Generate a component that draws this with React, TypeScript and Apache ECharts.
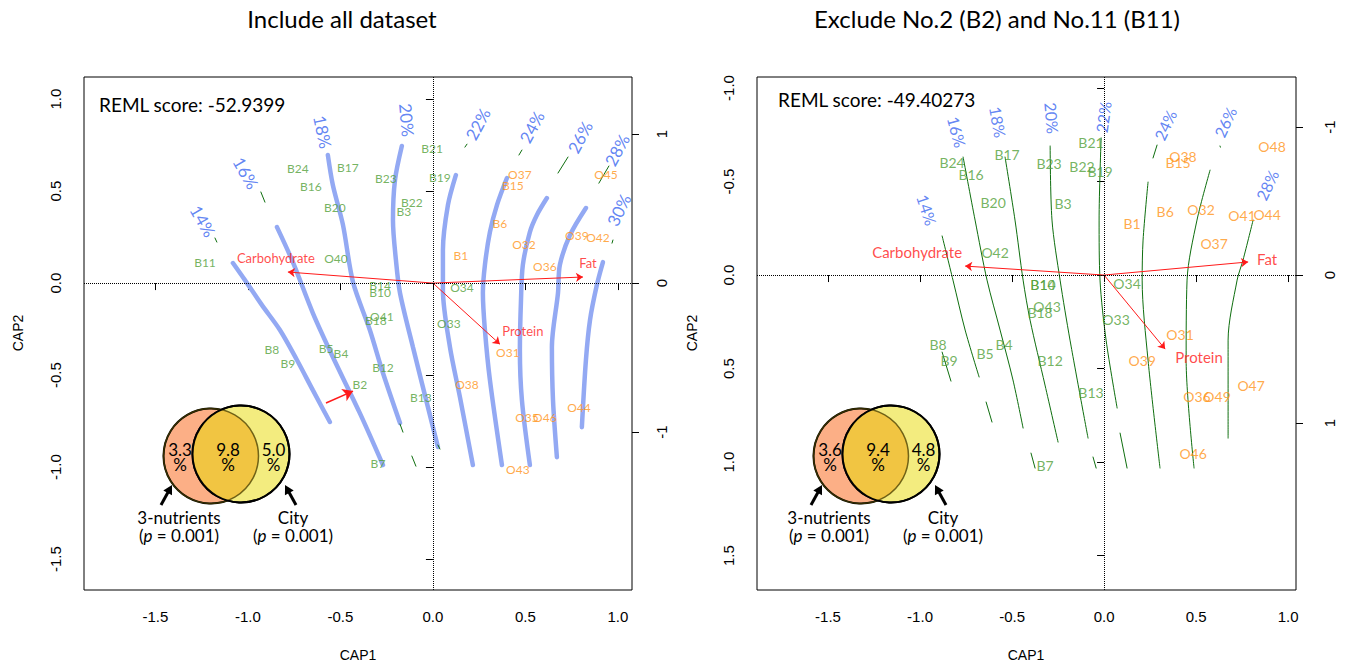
import React, { useEffect, useRef } from "react";
import * as echarts from "echarts";

// ---------- axis ranges and ticks ----------
const leftXRange = [-1.886, 1.076];
const leftYRange = [-1.668, 1.12];
const leftY2Range = [-2.06, 1.383];
const rightXRange = [-1.886, 1.043];
const rightYRange = [-1.059, 1.684];
const rightY2Range = [-1.338, 2.128];
const xTicks = [-1.5, -1, -0.5, 0, 0.5, 1];
const leftYTicks = [-1.5, -1, -0.5, 0, 0.5, 1];
const rightYTicks = [-1, -0.5, 0, 0.5, 1, 1.5];
const secondaryTicks = [-1, 0, 1];

// ---------- left panel: sites ----------
const leftGreenNames = ["B24", "B17", "B16", "B20", "B11", "O40", "B21", "B23", "B19", "B22", "B3", "O34", "B14", "B10", "O41", "B18", "O33", "B12", "B2", "B13", "B7", "B8", "B9", "B5", "B4"];
const leftGreenX = [-0.73, -0.46, -0.66, -0.53, -1.232, -0.524, -0.005, -0.254, 0.038, -0.114, -0.157, 0.157, -0.286, -0.286, -0.276, -0.308, 0.086, -0.27, -0.395, -0.065, -0.297, -0.87, -0.784, -0.578, -0.497];
const leftGreenY = [0.625, 0.63, 0.527, 0.413, 0.114, 0.136, 0.734, 0.571, 0.576, 0.44, 0.391, -0.022, -0.011, -0.049, -0.179, -0.201, -0.217, -0.457, -0.549, -0.62, -0.978, -0.359, -0.435, -0.353, -0.38];
const leftOrangeNames = ["O37", "B15", "O45", "B6", "B1", "O32", "O39", "O42", "O36", "O31", "O38", "O44", "O35", "O46", "O43"];
const leftOrangeX = [0.47, 0.432, 0.935, 0.362, 0.151, 0.492, 0.778, 0.892, 0.605, 0.405, 0.184, 0.789, 0.508, 0.605, 0.459];
const leftOrangeY = [0.592, 0.533, 0.592, 0.326, 0.152, 0.212, 0.261, 0.25, 0.092, -0.375, -0.549, -0.674, -0.728, -0.728, -1.011];

// ---------- left panel: nutrient arrows ----------
const leftArrowNames = ["Carbohydrate", "Fat", "Protein"];
const leftArrowX = [-0.784, 0.811, 0.362];
const leftArrowY = [0.06, 0.033, -0.332];
const leftArrowLabelX = [-0.849, 0.838, 0.486];
const leftArrowLabelY = [0.136, 0.109, -0.261];
const leftPointerFrom = [-0.578, -0.652];
const leftPointerTo = [-0.432, -0.587];

// ---------- left panel: contours (blue, hand-drawn overlay) ----------
const leftC14 = [[-1.081, 0.109], [-1.016, 0.016], [-0.924, -0.12], [-0.827, -0.255], [-0.735, -0.418], [-0.649, -0.582], [-0.557, -0.755]];
const leftC16 = [[-0.843, 0.304], [-0.757, 0.114], [-0.649, -0.163], [-0.541, -0.402], [-0.395, -0.707], [-0.27, -0.989]];
const leftC18 = [[-0.568, 0.696], [-0.541, 0.533], [-0.486, 0.315], [-0.432, 0.005], [-0.341, -0.255], [-0.27, -0.489], [-0.178, -0.761]];
const leftC20 = [[-0.168, 0.745], [-0.205, 0.56], [-0.216, 0.342], [-0.2, 0.125], [-0.178, -0.054], [-0.108, -0.348], [-0.027, -0.674], [0.027, -0.891]];
const leftC22 = [[0.124, 0.587], [0.081, 0.424], [0.054, 0.179], [0.054, -0.038], [0.092, -0.348], [0.146, -0.62], [0.216, -0.989]];
const leftC24 = [[0.4, 0.571], [0.346, 0.424], [0.308, 0.277], [0.281, 0.098], [0.27, -0.054], [0.281, -0.255], [0.308, -0.527], [0.373, -0.989]];
const leftC26 = [[0.616, 0.462], [0.562, 0.37], [0.524, 0.277], [0.486, 0.098], [0.476, -0.092], [0.47, -0.364], [0.481, -0.636], [0.524, -0.989]];
const leftC28 = [[0.827, 0.408], [0.741, 0.261], [0.686, 0.098], [0.676, -0.054], [0.643, -0.348], [0.649, -0.636], [0.67, -0.946]];
const leftC30 = [[0.919, 0.114], [0.886, -0.011], [0.849, -0.201], [0.827, -0.418], [0.805, -0.783]];
const leftGreenSegments = [
  [[-1.178, 0.245], [-1.168, 0.223]],
  [[-0.93, 0.495], [-0.908, 0.44]],
  [[0.173, 0.739], [0.184, 0.755]],
  [[0.465, 0.696], [0.481, 0.723]],
  [[0.676, 0.598], [0.73, 0.685]],
  [[0.897, 0.543], [0.951, 0.636]],
  [[0.968, 0.217], [0.973, 0.234]],
  [[-0.178, -0.766], [-0.162, -0.81]],
  [[-0.114, -0.94], [-0.092, -0.995]],
  [[0.027, -0.88], [0.038, -0.902]],
];
const leftPctNames = ["14%", "16%", "18%", "20%", "22%", "24%", "26%", "28%", "30%"];
const leftPctX = [-1.243, -1.011, -0.595, -0.141, 0.243, 0.535, 0.795, 0.995, 1.005];
const leftPctY = [0.337, 0.598, 0.821, 0.886, 0.864, 0.848, 0.793, 0.723, 0.397];
const leftPctAngles = [-60, -60, -78, -85, 62, 62, 62, 62, 64];

// ---------- right panel: sites ----------
const rightGreenNames = ["B24", "B17", "B16", "B20", "O42", "B21", "B23", "B22", "B19", "B3", "O34", "B14", "B10", "O43", "B18", "O33", "B12", "B13", "B7", "B8", "B9", "B5", "B4"];
const rightGreenX = [-0.826, -0.527, -0.723, -0.603, -0.592, -0.071, -0.299, -0.12, -0.022, -0.223, 0.125, -0.332, -0.332, -0.31, -0.348, 0.065, -0.293, -0.071, -0.321, -0.902, -0.842, -0.647, -0.543];
const rightGreenY = [-0.604, -0.647, -0.54, -0.39, -0.123, -0.711, -0.599, -0.578, -0.556, -0.38, 0.043, 0.053, 0.053, 0.166, 0.198, 0.235, 0.455, 0.626, 1.016, 0.369, 0.455, 0.422, 0.369];
const rightOrangeNames = ["O38", "B15", "O48", "B1", "B6", "O32", "O41", "O44", "O37", "O31", "O39", "O47", "O36", "O49", "O46"];
const rightOrangeX = [0.429, 0.402, 0.913, 0.152, 0.332, 0.527, 0.75, 0.886, 0.598, 0.413, 0.207, 0.799, 0.505, 0.614, 0.484];
const rightOrangeY = [-0.636, -0.604, -0.69, -0.273, -0.342, -0.348, -0.321, -0.326, -0.171, 0.316, 0.455, 0.588, 0.652, 0.652, 0.952];

// ---------- right panel: nutrient arrows ----------
const rightArrowNames = ["Carbohydrate", "Fat", "Protein"];
const rightArrowX = [-0.755, 0.783, 0.332];
const rightArrowY = [-0.048, -0.07, 0.396];
const rightArrowLabelX = [-1.016, 0.886, 0.516];
const rightArrowLabelY = [-0.123, -0.086, 0.439];

// ---------- right panel: contours ----------
const rightC14 = [[-0.88, -0.209], [-0.821, 0.027], [-0.755, 0.294], [-0.679, 0.545]];
const rightC16 = [[-0.766, -0.631], [-0.701, -0.294], [-0.636, 0.027], [-0.565, 0.294], [-0.495, 0.561], [-0.44, 0.818]];
const rightC18 = [[-0.538, -0.631], [-0.484, -0.294], [-0.44, 0.027], [-0.402, 0.241], [-0.321, 0.588], [-0.25, 0.893]];
const rightC20 = [[-0.293, -0.69], [-0.283, -0.294], [-0.239, 0.027], [-0.185, 0.348], [-0.087, 0.872]];
const rightC22 = [[-0.016, -0.733], [-0.027, -0.294], [-0.022, 0.027], [0.011, 0.348], [0.071, 0.711]];
const rightC24 = [[0.239, -0.497], [0.212, -0.187], [0.207, 0.027], [0.239, 0.455], [0.304, 1.032]];
const rightC26 = [[0.576, -0.561], [0.505, -0.294], [0.451, 0.027], [0.446, 0.455], [0.489, 1.032]];
const rightC28 = [[0.81, -0.294], [0.755, -0.08], [0.723, 0.027], [0.674, 0.348], [0.674, 0.872]];
const rightSegments = [
  [[-0.88, 0.412], [-0.832, 0.567]],
  [[-0.641, 0.679], [-0.609, 0.786]],
  [[-0.397, 0.952], [-0.375, 1.032]],
  [[-0.06, 0.973], [-0.043, 1.032]],
  [[0.087, 0.845], [0.125, 1.032]],
  [[0.288, -0.695], [0.266, -0.626]],
  [[0.63, -0.69], [0.632, -0.684]],
];
const rightPctNames = ["14%", "16%", "18%", "20%", "22%", "24%", "26%", "28%"];
const rightPctX = [-0.962, -0.799, -0.576, -0.283, -0.005, 0.332, 0.658, 0.886];
const rightPctY = [-0.348, -0.765, -0.818, -0.84, -0.845, -0.802, -0.818, -0.481];
const rightPctAngles = [-72, -75, -80, -85, 82, 65, 65, 65];

// ---------- Venn values ----------
const leftVenn = ["3.3", "9.8", "5.0"];
const rightVenn = ["3.6", "9.4", "4.8"];
const leftReml = "REML score: -52.9399";
const rightReml = "REML score: -49.40273";

const FONT = "Lato, 'Open Sans', sans-serif";
const TICKFONT = "'Liberation Sans', Arial, sans-serif";
const GREEN = "#52A038";
const ORANGE = "#FF9419";
const RED = "#FF1A1A";
const BLUE_TXT = "#3A66F0";
const BLUE_LINE = "#93A9F3";
const DKGREEN = "#0E6E0E";

function xAxisCfg(gridIndex: number, range: number[]) {
  return {
    type: "value", gridIndex, min: range[0], max: range[1],
    axisLine: { show: false }, splitLine: { show: false },
    axisTick: { show: true, inside: false, length: 7, lineStyle: { color: "#000" }, customValues: xTicks },
    axisLabel: { show: true, customValues: xTicks, formatter: (v: number) => v.toFixed(1), margin: 19, fontSize: 15, color: "#000", fontFamily: TICKFONT },
  };
}
function yAxisCfg(gridIndex: number, range: number[], ticks: number[], pos: string, inverse: boolean, decimals: number, margin: number) {
  return {
    type: "value", gridIndex, min: range[0], max: range[1], position: pos, inverse,
    axisLine: { show: false }, splitLine: { show: false },
    axisTick: { show: true, inside: false, length: 7, lineStyle: { color: "#000" }, customValues: ticks },
    axisLabel: { show: true, customValues: ticks, rotate: 90, formatter: (v: number) => v.toFixed(decimals), margin, fontSize: 15, color: "#000", fontFamily: TICKFONT },
  };
}
function labelSeries(names: string[], xs: number[], ys: number[], color: string, fontSize: number, xi: number, yi: number, z = 6) {
  return {
    type: "scatter", xAxisIndex: xi, yAxisIndex: yi, symbolSize: 1, silent: true, z,
    itemStyle: { color: "rgba(0,0,0,0)" },
    label: { show: true, position: "inside", formatter: "{b}", color, fontSize, fontFamily: FONT },
    data: names.map((n, i) => ({ name: n, value: [xs[i], ys[i]] })),
  };
}
function pctSeries(names: string[], xs: number[], ys: number[], angles: number[], xi: number, yi: number, fontSize: number) {
  return {
    type: "scatter", xAxisIndex: xi, yAxisIndex: yi, symbolSize: 1, silent: true, z: 6,
    itemStyle: { color: "rgba(0,0,0,0)" },
    label: { show: true, position: "inside", formatter: "{b}", color: BLUE_TXT, fontSize, fontFamily: FONT },
    data: names.map((n, i) => ({ name: n, value: [xs[i], ys[i]], label: { rotate: angles[i] } })),
  };
}
function lineSeries(pts: number[][], xi: number, yi: number, color: string, width: number, z: number, smooth = 0.3) {
  return {
    type: "line", xAxisIndex: xi, yAxisIndex: yi, data: pts, symbol: "none", showSymbol: false,
    smooth, silent: true, z, lineStyle: { color, width, cap: "round" }, animation: false,
  };
}
function arrowSeries(xs: number[], ys: number[], xi: number, yi: number) {
  return {
    type: "lines", coordinateSystem: "cartesian2d", xAxisIndex: xi, yAxisIndex: yi, silent: true, z: 4,
    symbol: ["none", "arrow"], symbolSize: 7,
    lineStyle: { color: RED, width: 1, opacity: 1, curveness: 0 },
    data: xs.map((x, i) => ({ coords: [[0, 0], [x, ys[i]]] })),
  };
}
function zeroLines(xi: number, yi: number) {
  return {
    type: "scatter", xAxisIndex: xi, yAxisIndex: yi, data: [], silent: true,
    markLine: {
      silent: true, symbol: ["none", "none"], label: { show: false },
      lineStyle: { type: "dotted", color: "#000", width: 1 },
      data: [{ yAxis: 0 }, { xAxis: 0 }],
    },
  };
}

function lensPoints(c1: number[], r1: number, c2: number[], r2: number) {
  const pts: number[][] = [];
  for (let i = 0; i < 720; i++) {
    const a = (i * Math.PI) / 360;
    const p = [c1[0] + r1 * Math.cos(a), c1[1] + r1 * Math.sin(a)];
    if (Math.hypot(p[0] - c2[0], p[1] - c2[1]) <= r2) pts.push(p);
    const q = [c2[0] + r2 * Math.cos(a), c2[1] + r2 * Math.sin(a)];
    if (Math.hypot(q[0] - c1[0], q[1] - c1[1]) <= r1) pts.push(q);
  }
  const cx = (c1[0] + r1 + c2[0] - r2) / 2;
  const cy = (c1[1] + c2[1]) / 2;
  pts.sort((a, b) => Math.atan2(a[1] - cy, a[0] - cx) - Math.atan2(b[1] - cy, b[0] - cx));
  return pts;
}
function arrowEls(tail: number[], tip: number[]) {
  const dx = tip[0] - tail[0], dy = tip[1] - tail[1];
  const len = Math.hypot(dx, dy);
  const ux = dx / len, uy = dy / len, nx = -uy, ny = ux;
  const hl = 9, hw = 5;
  return [
    { type: "line", shape: { x1: tail[0], y1: tail[1], x2: tip[0] - ux * 6, y2: tip[1] - uy * 6 }, style: { stroke: "#000", lineWidth: 3 }, z: 100 },
    { type: "polygon", shape: { points: [tip, [tip[0] - ux * hl + nx * hw, tip[1] - uy * hl + ny * hw], [tip[0] - ux * hl - nx * hw, tip[1] - uy * hl - ny * hw]] }, style: { fill: "#000" }, z: 100 },
  ];
}
function txt(x: number, y: number, text: string, size: number, color = "#000", extra: any = {}) {
  return {
    type: "text", x, y, z: 100,
    style: { text, fill: color, font: `${size}px ${FONT}`, fontSize: size, fontFamily: FONT, textAlign: "center", textVerticalAlign: "middle", align: "center", verticalAlign: "middle", ...extra },
  };
}
function vennEls(ox: number, vals: string[]) {
  const c1 = [211 + ox, 456], r1 = 47.5;
  const c2 = [241 + ox, 454], r2 = 48.5;
  const lens = lensPoints(c1, r1, c2, r2);
  const lab = { fontSize: 17, fontFamily: FONT, fill: "#000", lineHeight: 18 };
  const pRich = { a: lab, i: { ...lab, fontStyle: "italic" }, n: lab };
  return [
    { type: "circle", shape: { cx: c1[0], cy: c1[1], r: r1 }, style: { fill: "#FCAF86", stroke: "#000", lineWidth: 2 }, z: 100 },
    { type: "circle", shape: { cx: c2[0], cy: c2[1], r: r2 }, style: { fill: "#F3EC7F", stroke: "#000", lineWidth: 2 }, z: 100 },
    { type: "polygon", shape: { points: lens }, style: { fill: "#F1C542" }, z: 100 },
    { type: "circle", shape: { cx: c1[0], cy: c1[1], r: r1 }, style: { fill: "none", stroke: "rgba(70,60,0,0.75)", lineWidth: 1.5 }, z: 100 },
    { type: "circle", shape: { cx: c2[0], cy: c2[1], r: r2 }, style: { fill: "none", stroke: "#000", lineWidth: 2 }, z: 100 },
    txt(180 + ox, 457, `${vals[0]}\n%`, 17, "#000", { lineHeight: 15 }),
    txt(228 + ox, 457, `${vals[1]}\n%`, 17, "#000", { lineHeight: 15 }),
    txt(273.5 + ox, 457, `${vals[2]}\n%`, 17, "#000", { lineHeight: 15 }),
    ...arrowEls([161 + ox, 505], [172 + ox, 485]),
    ...arrowEls([296 + ox, 505], [285 + ox, 485]),
    txt(179 + ox, 526, "{a|3-nutrients}\n({i|p}{n| = 0.001})", 17, "#000", { rich: pRich }),
    txt(293 + ox, 526, "{a|City}\n({i|p}{n| = 0.001})", 17, "#000", { rich: pRich }),
  ];
}

export default function App() {
  const ref = useRef<HTMLDivElement>(null);
  useEffect(() => {
    if (!ref.current) return;
    const chart = echarts.init(ref.current, undefined, { renderer: "svg" });
    const series: any[] = [
      zeroLines(0, 0),
      zeroLines(1, 2),
      // left panel
      ...[leftC14, leftC16, leftC18, leftC20, leftC22, leftC24, leftC26, leftC28, leftC30].map((c) => lineSeries(c, 0, 0, BLUE_LINE, 4.5, 2)),
      ...leftGreenSegments.map((s) => lineSeries(s, 0, 0, DKGREEN, 1, 3, 0)),
      arrowSeries(leftArrowX, leftArrowY, 0, 0),
      {
        type: "lines", coordinateSystem: "cartesian2d", xAxisIndex: 0, yAxisIndex: 0, silent: true, z: 4,
        symbol: ["none", "arrow"], symbolSize: 10,
        lineStyle: { color: RED, width: 1.5, opacity: 1, curveness: 0 },
        data: [{ coords: [leftPointerFrom, leftPointerTo] }],
      },
      labelSeries(leftArrowNames, leftArrowLabelX, leftArrowLabelY, RED, 13, 0, 0),
      labelSeries(leftGreenNames, leftGreenX, leftGreenY, GREEN, 12, 0, 0),
      labelSeries(leftOrangeNames, leftOrangeX, leftOrangeY, ORANGE, 12, 0, 0),
      pctSeries(leftPctNames, leftPctX, leftPctY, leftPctAngles, 0, 0, 17),
      // right panel
      ...[rightC14, rightC16, rightC18, rightC20, rightC22, rightC24, rightC26, rightC28].map((c) => lineSeries(c, 1, 2, DKGREEN, 1, 2)),
      ...rightSegments.map((s) => lineSeries(s, 1, 2, DKGREEN, 1, 2, 0)),
      arrowSeries(rightArrowX, rightArrowY, 1, 2),
      labelSeries(rightArrowNames, rightArrowLabelX, rightArrowLabelY, RED, 15, 1, 2),
      labelSeries(rightGreenNames, rightGreenX, rightGreenY, GREEN, 14, 1, 2),
      labelSeries(rightOrangeNames, rightOrangeX, rightOrangeY, ORANGE, 14, 1, 2),
      pctSeries(rightPctNames, rightPctX, rightPctY, rightPctAngles, 1, 2, 16),
    ];
    chart.setOption({
      animation: false,
      backgroundColor: "#fff",
      grid: [
        { left: 84, top: 77, width: 548, height: 513, show: true, borderColor: "#000", borderWidth: 1, backgroundColor: "transparent" },
        { left: 757, top: 77, width: 539, height: 513, show: true, borderColor: "#000", borderWidth: 1, backgroundColor: "transparent" },
      ],
      xAxis: [xAxisCfg(0, leftXRange), xAxisCfg(1, rightXRange)],
      yAxis: [
        yAxisCfg(0, leftYRange, leftYTicks, "left", false, 1, 21),
        yAxisCfg(0, leftY2Range, secondaryTicks, "right", false, 0, 22),
        yAxisCfg(1, rightYRange, rightYTicks, "left", true, 1, 21),
        yAxisCfg(1, rightY2Range, secondaryTicks, "right", true, 0, 26),
      ],
      series,
      graphic: [
        txt(342, 18, "Include all dataset", 24),
        txt(997, 18, "Exclude No.2 (B2) and No.11 (B11)", 24),
        txt(358, 655, "CAP1", 14, "#000", { font: `14px ${TICKFONT}`, fontFamily: TICKFONT }),
        txt(1026, 655, "CAP1", 14, "#000", { font: `14px ${TICKFONT}`, fontFamily: TICKFONT }),
        { ...txt(18, 333, "CAP2", 14, "#000", { font: `14px ${TICKFONT}`, fontFamily: TICKFONT }), rotation: Math.PI / 2 },
        { ...txt(692, 333, "CAP2", 14, "#000", { font: `14px ${TICKFONT}`, fontFamily: TICKFONT }), rotation: Math.PI / 2 },
        txt(99, 104, leftReml, 19, "#000", { textAlign: "left", align: "left" }),
        txt(778, 99, rightReml, 19, "#000", { textAlign: "left", align: "left" }),
        ...vennEls(0, leftVenn),
        ...vennEls(650, rightVenn),
      ],
    });
    return () => chart.dispose();
  }, []);
  return <div ref={ref} style={{ position: "fixed", left: 0, top: 0, width: 1349, height: 668, background: "#fff" }} />;
}
